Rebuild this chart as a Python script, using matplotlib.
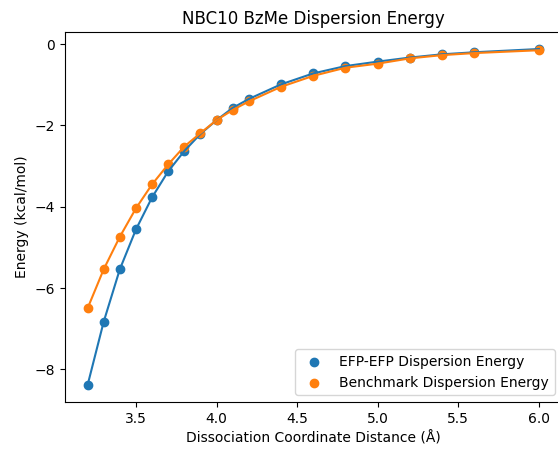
import matplotlib
matplotlib.use("Agg")
import matplotlib.pyplot as plt

distance = [3.2, 3.3, 3.4, 3.5, 3.6, 3.7, 3.8, 3.9, 4.0, 4.1, 4.2, 4.4, 4.6, 4.8, 5.0, 5.2, 5.4, 5.6, 6.0]
efp_energy = [-8.39, -6.83, -5.54, -4.56, -3.77, -3.13, -2.63, -2.21, -1.87, -1.57, -1.35, -0.99,
              -0.72, -0.54, -0.43, -0.33, -0.25, -0.20, -0.12]
bench_energy = [-6.50, -5.54, -4.74, -4.04, -3.45, -2.96, -2.52, -2.19, -1.87, -1.62, -1.41, -1.05,
                -0.78, -0.58, -0.48, -0.35, -0.27, -0.22, -0.15]

fig = plt.figure(figsize=(5.58, 4.49), dpi=100)
ax = fig.add_axes([65/558, 1-402/449, (561.5-65)/558, (402-32.2)/449])
ax.plot(distance, efp_energy, color="C0")
ax.scatter(distance, efp_energy, color="C0", label="EFP-EFP Dispersion Energy")
ax.plot(distance, bench_energy, color="C1")
ax.scatter(distance, bench_energy, color="C1", label="Benchmark Dispersion Energy")
ax.set_title("NBC10 BzMe Dispersion Energy")
ax.set_xlabel("Dissociation Coordinate Distance (Å)")
ax.set_ylabel("Energy (kcal/mol)")
ax.legend(loc="lower right")
fig.savefig("out.png", dpi=100)
